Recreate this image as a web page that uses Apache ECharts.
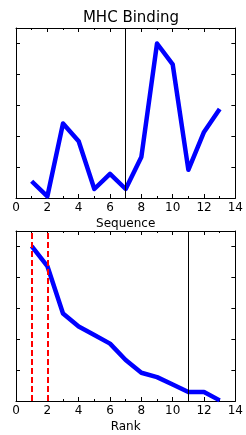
<!DOCTYPE html>
<html>
<head>
<meta charset="utf-8">
<script src="https://cdn.jsdelivr.net/npm/echarts@6/dist/echarts.min.js"></script>
<style>
  html, body { margin: 0; padding: 0; background: #fff; }
  #main { width: 246px; height: 435px; }
</style>
</head>
<body>
<div id="main"></div>
<script>
// top panel: binding score per sequence position
const seqPos = [1, 2, 3, 4, 5, 6, 7, 8, 9, 10, 11, 12, 13];
const seqScore = [0.54, 0.05, 2.40, 1.83, 0.29, 0.78, 0.29, 1.32, 4.98, 4.31, 0.91, 2.13, 2.87];
const seqMark = 7;

// bottom panel: sorted scores by rank
const rankPos = [1, 2, 3, 4, 5, 6, 7, 8, 9, 10, 11, 12, 13];
const rankScore = [4.99, 4.35, 2.82, 2.40, 2.13, 1.85, 1.32, 0.91, 0.77, 0.53, 0.29, 0.29, 0.02];
const rankMark = 11;
const rankDashed = [1, 2];

const xTicks = [0, 2, 4, 6, 8, 10, 12, 14];

const font = 'DejaVu Sans';
const frame = { show: true, onZero: false, lineStyle: { color: '#000', width: 1 } };

function xAx(gridIndex, pos, name) {
    return {
        type: 'value', gridIndex: gridIndex, position: pos,
        min: xTicks[0], max: xTicks[xTicks.length - 1], interval: 2,
        axisLine: frame,
        axisTick: { show: true, inside: true, length: 4, lineStyle: { color: '#000' } },
        minorTick: { show: true, splitNumber: 2, length: 2, lineStyle: { color: '#000' } },
        splitLine: { show: false },
        axisLabel: { show: pos === 'bottom', color: '#000', fontFamily: font, fontSize: 12, margin: 4 },
        name: name, nameLocation: 'middle', nameGap: 20,
        nameTextStyle: { color: '#000', fontFamily: font, fontSize: 12 }
    };
}

function yAx(gridIndex, pos) {
    return {
        type: 'value', gridIndex: gridIndex, position: pos,
        min: 0, max: 5.48, interval: 1,
        axisLine: frame,
        axisTick: { show: true, inside: true, length: 4, lineStyle: { color: '#000' } },
        splitLine: { show: false },
        axisLabel: { show: false }
    };
}

function vLine(x, color, width, type) {
    return { xAxis: x, lineStyle: { color: color, width: width, type: type } };
}

const chart = echarts.init(document.getElementById('main'));
chart.setOption({
    animation: false,
    title: {
        text: 'MHC Binding', left: 126, top: 6, textAlign: 'center',
        textStyle: { color: '#000', fontFamily: font, fontSize: 15, fontWeight: 'normal' }
    },
    grid: [
        { left: 16, top: 28, width: 220, height: 170 },
        { left: 16, top: 231, width: 220, height: 170 }
    ],
    xAxis: [
        xAx(0, 'bottom', 'Sequence'), xAx(0, 'top', ''),
        xAx(1, 'bottom', 'Rank'), xAx(1, 'top', '')
    ],
    yAxis: [
        yAx(0, 'left'), yAx(0, 'right'),
        yAx(1, 'left'), yAx(1, 'right')
    ],
    series: [
        {
            type: 'line', xAxisIndex: 0, yAxisIndex: 0,
            data: seqPos.map((x, i) => [x, seqScore[i]]),
            showSymbol: false, symbol: 'none',
            lineStyle: { color: '#0000ff', width: 4.5, join: 'round' },
            markLine: {
                silent: true, symbol: 'none', label: { show: false },
                data: [vLine(seqMark, '#000', 1, 'solid')]
            }
        },
        {
            type: 'line', xAxisIndex: 2, yAxisIndex: 2,
            data: rankPos.map((x, i) => [x, rankScore[i]]),
            showSymbol: false, symbol: 'none',
            lineStyle: { color: '#0000ff', width: 4.5, join: 'round' },
            markLine: {
                silent: true, symbol: 'none', label: { show: false },
                data: rankDashed.map(x => vLine(x, '#ff0000', 2, [6, 3]))
                    .concat([vLine(rankMark, '#000', 1, 'solid')])
            }
        }
    ]
});
</script>
</body>
</html>
